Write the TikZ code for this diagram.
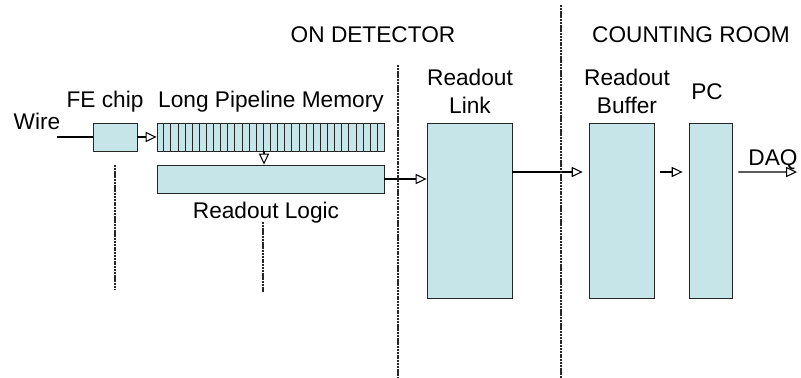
\documentclass[tikz,border=0pt]{standalone}
\usepackage{fontspec}
\setmainfont{Liberation Sans}
\usetikzlibrary{arrows.meta,positioning,calc}

\begin{document}
\begin{tikzpicture}[x=0.02cm, y=-0.02cm, >={Triangle[open,length=6.2pt,width=5.8pt]},
  box/.style={draw=black!85, line width=0.5pt, fill={rgb,255:red,197;green,229;blue,233}, inner sep=0pt},
  lbl/.style={font=\fontsize{12.9}{15.9}\selectfont, align=center, inner sep=0pt},
  wire/.style={line width=0.6pt},
  divider/.style={line width=1.3pt, black!85, dash pattern=on 1.2pt off 0.4pt}]
\useasboundingbox (0,0) rectangle (801,378);
% boxes
\node[box, minimum width=0.88cm, minimum height=0.56cm] (fe) at (115,137) {};
\node[box, minimum width=4.54cm, minimum height=0.56cm] (pipe) at (270.5,137) {};
\node[box, minimum width=4.54cm, minimum height=0.56cm] (logic) at (270.5,179) {};
\node[box, minimum width=1.7cm, minimum height=3.5cm] (link) at (469.5,210.5) {};
\node[box, minimum width=1.3cm, minimum height=3.5cm] (buffer) at (621.5,210.5) {};
\node[box, minimum width=0.86cm, minimum height=3.5cm] (pc) at (710.5,210.5) {};
\foreach \i in {1,...,31} \draw[black!85, line width=0.5pt] ($(pipe.north west)!{\i/32}!(pipe.north east)$) -- ($(pipe.south west)!{\i/32}!(pipe.south east)$);
% labels
\node[lbl] (wirelbl) at (37,121) {Wire};
\node[lbl] (felbl) at (105,102) {FE chip};
\node[lbl] (pipelbl) at (271,102) {Long Pipeline Memory};
\node[lbl] (logiclbl) at (266,213) {Readout Logic};
\node[lbl] (linklbl) at (470,91) {Readout\\Link};
\node[lbl] (bufferlbl) at (627,91) {Readout\\Buffer};
\node[lbl] (pclbl) at (707,92) {PC};
\node[lbl] (daqlbl) at (773,160) {DAQ};
\node[lbl] (detlbl) at (373,35) {ON DETECTOR};
\node[lbl] (roomlbl) at (691,35) {COUNTING ROOM};
% connectors
\coordinate (wirein) at (57,137);
\coordinate (daq) at (797,172);
\draw[wire] (wirein) -- (fe.west);
\draw[wire,->] (fe.east) -- (pipe.west);
\draw[wire,->] ([xshift=-0.13cm]pipe.south) -- ([xshift=-0.13cm]logic.north);
\draw[wire,->] (logic.east) -- (link.west |- logic.east);
\draw[wire,->, shorten >=3.4pt] ([yshift=0.77cm]link.east) -- ([yshift=0.77cm]buffer.west);
\draw[wire,->, shorten <=3.4pt, shorten >=3.4pt] ([yshift=0.77cm]buffer.east) -- ([yshift=0.77cm]pc.west);
\draw[wire,->, shorten <=3.4pt] ([yshift=0.77cm]pc.east) -- (daq);
% dividers
\draw[divider] (398,65) -- (398,378);
\draw[divider] (561,5) -- (561,378);
\draw[divider] (115,165) -- (115,290);
\draw[divider] (263,222) -- (263,292);
\end{tikzpicture}
\end{document}
